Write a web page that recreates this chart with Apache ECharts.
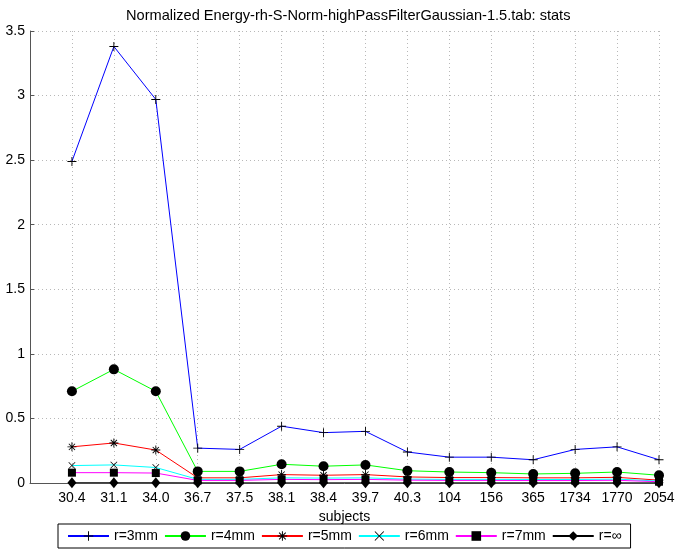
<!DOCTYPE html>
<html>
<head>
<meta charset="utf-8">
<script src="https://cdn.jsdelivr.net/npm/echarts@6/dist/echarts.min.js"></script>
<style>
html,body{margin:0;padding:0;background:#fff;}
#chart{width:679px;height:557px;}
</style>
</head>
<body>
<div id="chart"></div>
<script>
var categories = ['30.4','31.1','34.0','36.7','37.5','38.1','38.4','39.7','40.3','104','156','365','1734','1770','2054'];
var yTicks = [0, 0.5, 1, 1.5, 2, 2.5, 3, 3.5];
var seriesNames = ['r=3mm','r=4mm','r=5mm','r=6mm','r=7mm','r=\u221e'];
var r3mm = [2.49, 3.38, 2.97, 0.27, 0.26, 0.44, 0.39, 0.40, 0.24, 0.20, 0.20, 0.18, 0.26, 0.28, 0.18];
var r4mm = [0.71, 0.88, 0.71, 0.09, 0.09, 0.145, 0.13, 0.14, 0.095, 0.085, 0.08, 0.07, 0.075, 0.085, 0.06];
var r5mm = [0.28, 0.31, 0.255, 0.04, 0.04, 0.065, 0.06, 0.065, 0.047, 0.042, 0.042, 0.04, 0.04, 0.044, 0.022];
var r6mm = [0.135, 0.14, 0.12, 0.028, 0.028, 0.04, 0.038, 0.04, 0.03, 0.028, 0.028, 0.027, 0.027, 0.03, 0.015];
var r7mm = [0.08, 0.08, 0.077, 0.02, 0.02, 0.028, 0.026, 0.028, 0.022, 0.02, 0.02, 0.019, 0.019, 0.021, 0.01];
var rInf = [0.002, 0.002, 0.002, 0.001, 0.001, 0.001, 0.001, 0.001, 0.001, 0.001, 0.001, 0.001, 0.001, 0.001, 0.001];

var lineColors = ['#0000ff', '#00ff00', '#ff0000', '#00ffff', '#ff00ff', '#000000'];
var PLUS = 'path://M4.5,0H5.5V10H4.5ZM0,4.5H10V5.5H0Z';
var CROSS = 'path://M0,0.7L0.7,0L10,9.3L9.3,10ZM9.3,0L10,0.7L0.7,10L0,9.3Z';
var STAR = 'path://M4.5,0H5.5V10H4.5ZM0,4.5H10V5.5H0ZM1.2,1.9L1.9,1.2L8.8,8.1L8.1,8.8ZM8.1,1.2L8.8,1.9L1.9,8.8L1.2,8.1Z';
var symbols = [PLUS, 'circle', STAR, CROSS, 'rect', 'diamond'];
var symbolSizes = [9, 10, 9, 7, 8, [9, 11]];
var allData = [r3mm, r4mm, r5mm, r6mm, r7mm, rInf];

var FONT = 'Liberation Sans, Arial, Helvetica, sans-serif';

var series = allData.map(function (vals, k) {
  return {
    name: seriesNames[k],
    type: 'line',
    data: vals.map(function (v, i) { return [i + 1, v]; }),
    symbol: symbols[k],
    symbolSize: symbolSizes[k],
    showAllSymbol: true,
    lineStyle: { color: lineColors[k], width: 1 },
    itemStyle: { color: '#000000' },
    emphasis: { disabled: true },
    z: 2 + k
  };
});

var chart = echarts.init(document.getElementById('chart'), null, { renderer: 'canvas' });
chart.setOption({
  animation: false,
  backgroundColor: '#ffffff',
  textStyle: { fontFamily: FONT },
  title: {
    text: 'Normalized Energy-rh-S-Norm-highPassFilterGaussian-1.5.tab: stats',
    left: 121,
    top: 3,
    textStyle: { fontSize: 14.6, fontWeight: 'normal', color: '#000', fontFamily: FONT }
  },
  grid: { left: 30, right: 20, top: 31, bottom: 74 },
  xAxis: {
    type: 'value',
    min: 0,
    max: categories.length,
    interval: 1,
    name: 'subjects',
    nameLocation: 'middle',
    nameGap: 22,
    nameTextStyle: { fontSize: 14, color: '#000', fontFamily: FONT },
    axisLine: { show: true, lineStyle: { color: '#555', width: 1 } },
    axisTick: { show: true, inside: true, length: 4, lineStyle: { color: '#555' } },
    axisLabel: {
      fontSize: 14, color: '#000', margin: 8, fontFamily: FONT,
      showMinLabel: true, showMaxLabel: true,
      formatter: function (v) {
        var i = Math.round(v) - 1;
        return (i >= 0 && i < categories.length) ? categories[i] : '';
      }
    },
    splitLine: { show: true, lineStyle: { color: '#b8b8b8', type: [1, 3], width: 1 } }
  },
  yAxis: {
    type: 'value',
    min: yTicks[0],
    max: yTicks[yTicks.length - 1],
    interval: 0.5,
    axisLine: { show: true, lineStyle: { color: '#555', width: 1 } },
    axisTick: { show: true, inside: true, length: 4, lineStyle: { color: '#555' } },
    axisLabel: {
      fontSize: 14, color: '#000', margin: 5, fontFamily: FONT,
      formatter: function (v) { return String(v); }
    },
    splitLine: { show: true, lineStyle: { color: '#b8b8b8', type: [1, 3], width: 1 } }
  },
  legend: {
    data: seriesNames,
    left: 58,
    bottom: 9,
    orient: 'horizontal',
    itemWidth: 41,
    itemHeight: 12,
    itemGap: 6,
    padding: [5, 9, 5, 9],
    borderColor: '#000',
    borderWidth: 1,
    borderRadius: 0,
    backgroundColor: '#fff',
    textStyle: { fontSize: 14, color: '#000', fontFamily: FONT }
  },
  series: series
});
</script>
</body>
</html>
